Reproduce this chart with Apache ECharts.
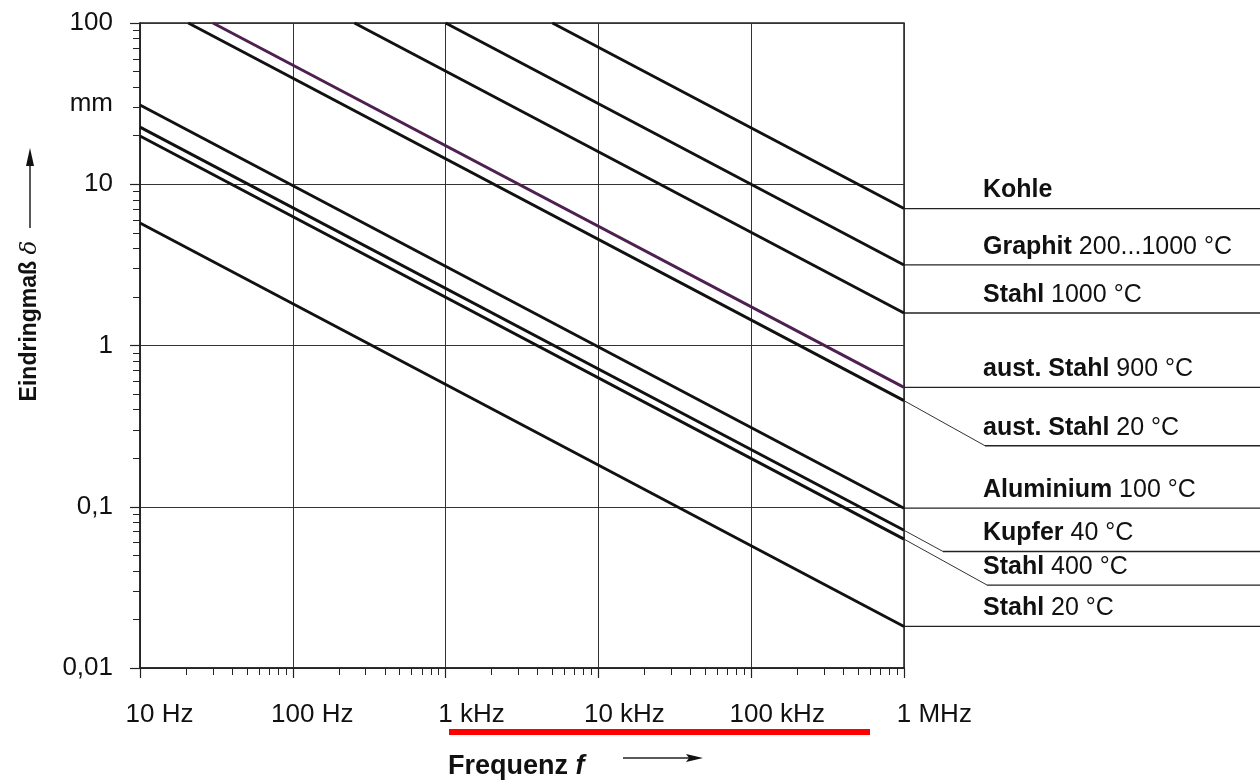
<!DOCTYPE html>
<html>
<head>
<meta charset="utf-8">
<title>Eindringmaß</title>
<script src="https://cdn.jsdelivr.net/npm/echarts@6.0.0/dist/echarts.min.js"></script>
<style>
    html, body { margin: 0; padding: 0; background: #fff; }
    #chart { width: 1260px; height: 781px; }
</style>
</head>
<body>
<div id="chart"></div>
<script>
// Werkstoffe (fett) und Bedingung (normal)
const materials = ['Kohle', 'Graphit', 'Stahl', 'aust. Stahl', 'aust. Stahl', 'Aluminium', 'Kupfer', 'Stahl', 'Stahl'];
const conditions = ['', '200...1000 °C', '1000 °C', '900 °C', '20 °C', '100 °C', '40 °C', '400 °C', '20 °C'];
// Anfangspunkt jeder Geraden (Hz, mm)
const startFreq = [5000, 1000, 253, 30, 20.7, 10, 10, 10, 10];
const startDelta = [100, 100, 100, 100, 100, 31, 22.6, 19.9, 5.75];
// Endpunkt bei 1 MHz (mm)
const endFreq = 1e6;
const endDelta = [7.07, 3.16, 1.59, 0.55, 0.455, 0.098, 0.0715, 0.063, 0.0181];
// Höhe der Beschriftungslinie rechts (mm)
const labelDelta = [7.07, 3.16, 1.59, 0.55, 0.239, 0.098, 0.0528, 0.0327, 0.0181];

// Achsenbeschriftung
const xTickNums = ['10', '100', '1', '10', '100', '1'];
const xTickUnits = ['Hz', 'Hz', 'kHz', 'kHz', 'kHz', 'MHz'];
const yTickLabels = ['0,01', '0,1', '1', '10', '100'];

// Layout (Pixel) – Versatz der Knicklinien rechts vom Diagramm
const leaderDx = [0, 0, 0, 0, 81, 0, 39, 83, 0];

const FONT = '"Liberation Sans", Arial, sans-serif';
const INK = '#111';

var myChart = echarts.init(document.getElementById('chart'));

const series = materials.map((m, i) => ({
    name: (m + ' ' + conditions[i]).trim(),
    type: 'line',
    data: [[startFreq[i], startDelta[i]], [endFreq, endDelta[i]]],
    symbol: 'none',
    silent: true,
    lineStyle: { color: i === 3 ? '#4e2050' : INK, width: 2.9 }
}));

const tickFont = { fontSize: 26, fontFamily: FONT, color: INK };

let option = {
    animation: false,
    backgroundColor: '#fff',
    grid: {
        left: 140, right: 356, top: 23, bottom: 113,
        show: true, borderColor: '#222', borderWidth: 1.5,
        containLabel: false, outerBoundsMode: 'none'
    },
    xAxis: {
        type: 'log', logBase: 10, min: 10, max: 1e6,
        axisLine: { show: true, lineStyle: { color: '#222', width: 1.5 } },
        axisTick: { show: true, length: 10, lineStyle: { color: '#222', width: 1.2 } },
        minorTick: { show: true, splitNumber: 9, length: 7, lineStyle: { color: '#222', width: 1 } },
        splitLine: { show: true, lineStyle: { color: '#333', width: 1 } },
        axisLabel: {
            margin: 34,
            showMinLabel: true, showMaxLabel: true,
            formatter: function (v) {
                const k = Math.round(Math.log10(v)) - 1;
                const u = xTickUnits[k];
                // unsichtbarer Vorspann, damit die Zahl mittig auf dem Strich sitzt
                return '{g|' + u + ' }{n|' + xTickNums[k] + '}{n| ' + u + '}';
            },
            rich: {
                g: Object.assign({}, tickFont, { color: 'transparent' }),
                n: tickFont
            }
        }
    },
    yAxis: {
        type: 'log', logBase: 10, min: 0.01, max: 100,
        axisLine: { show: true, lineStyle: { color: '#222', width: 1.5 } },
        axisTick: { show: true, length: 10, lineStyle: { color: '#222', width: 1.2 } },
        minorTick: { show: true, splitNumber: 9, length: 7, lineStyle: { color: '#222', width: 1 } },
        splitLine: { show: true, lineStyle: { color: '#333', width: 1 } },
        axisLabel: Object.assign({
            margin: 27,
            showMinLabel: true, showMaxLabel: true,
            formatter: function (v) {
                return yTickLabels[Math.round(Math.log10(v)) + 2];
            }
        }, tickFont)
    },
    series: series
};
myChart.setOption(option);

// Beschriftung rechts, Achsentitel, Pfeile
const xEnd = myChart.convertToPixel({ xAxisIndex: 0 }, endFreq);
const W = 1260;
const graphic = [];
materials.forEach((m, i) => {
    const yLine = myChart.convertToPixel({ yAxisIndex: 0 }, endDelta[i]);
    const yRule = myChart.convertToPixel({ yAxisIndex: 0 }, labelDelta[i]);
    const xRule = xEnd + leaderDx[i];
    if (leaderDx[i] > 0) {
        graphic.push({
            type: 'line', silent: true,
            shape: { x1: xEnd, y1: yLine, x2: xRule, y2: yRule },
            style: { stroke: '#333', lineWidth: 1 }
        });
    }
    graphic.push({
        type: 'line', silent: true,
        shape: { x1: xRule, y1: yRule, x2: W, y2: yRule },
        style: { stroke: '#222', lineWidth: 1.3 }
    });
    graphic.push({
        type: 'text', silent: true, x: 983, y: yRule - 18,
        style: {
            text: '{b|' + m + '}' + (conditions[i] ? '{r| ' + conditions[i] + '}' : ''),
            verticalAlign: 'middle', align: 'left',
            rich: {
                b: { fontSize: 25, fontWeight: 'bold', fontFamily: FONT, fill: INK },
                r: { fontSize: 25, fontFamily: FONT, fill: INK }
            }
        }
    });
});

// Einheit "mm" zwischen 10 und 100
graphic.push({
    type: 'text', silent: true, x: 113, y: myChart.convertToPixel({ yAxisIndex: 0 }, 31.6),
    style: { text: 'mm', align: 'right', verticalAlign: 'middle', fontSize: 26, fontFamily: FONT, fill: INK }
});

// y-Titel
graphic.push({
    type: 'text', silent: true, x: 30, y: 321, rotation: Math.PI / 2,
    style: {
        text: '{b|Eindringmaß }{i|δ}', align: 'center', verticalAlign: 'middle',
        rich: {
            b: { fontSize: 23, fontWeight: 'bold', fontFamily: FONT, fill: INK },
            i: { fontSize: 23, fontStyle: 'italic', fontFamily: '"DejaVu Serif", serif', fill: INK }
        }
    }
});
graphic.push({ type: 'line', silent: true, shape: { x1: 30, y1: 228, x2: 30, y2: 160 }, style: { stroke: '#222', lineWidth: 1.5 } });
graphic.push({ type: 'polygon', silent: true, shape: { points: [[30, 148], [26, 166], [34, 166]] }, style: { fill: '#111' } });

// x-Titel
graphic.push({
    type: 'text', silent: true, x: 448, y: 767,
    style: {
        text: '{b|Frequenz }{i|f}', align: 'left', verticalAlign: 'middle',
        rich: {
            b: { fontSize: 27, fontWeight: 'bold', fontFamily: FONT, fill: INK },
            i: { fontSize: 27, fontWeight: 'bold', fontStyle: 'italic', fontFamily: FONT, fill: INK }
        }
    }
});
graphic.push({ type: 'line', silent: true, shape: { x1: 623, y1: 758, x2: 692, y2: 758 }, style: { stroke: '#222', lineWidth: 1.5 } });
graphic.push({ type: 'polygon', silent: true, shape: { points: [[703, 758], [686, 754], [689, 758], [686, 762]] }, style: { fill: '#111' } });

// rote Unterstreichung
graphic.push({ type: 'rect', silent: true, shape: { x: 449, y: 729, width: 421, height: 6 }, style: { fill: '#ff0000' } });

myChart.setOption({ graphic: graphic });
</script>
</body>
</html>
